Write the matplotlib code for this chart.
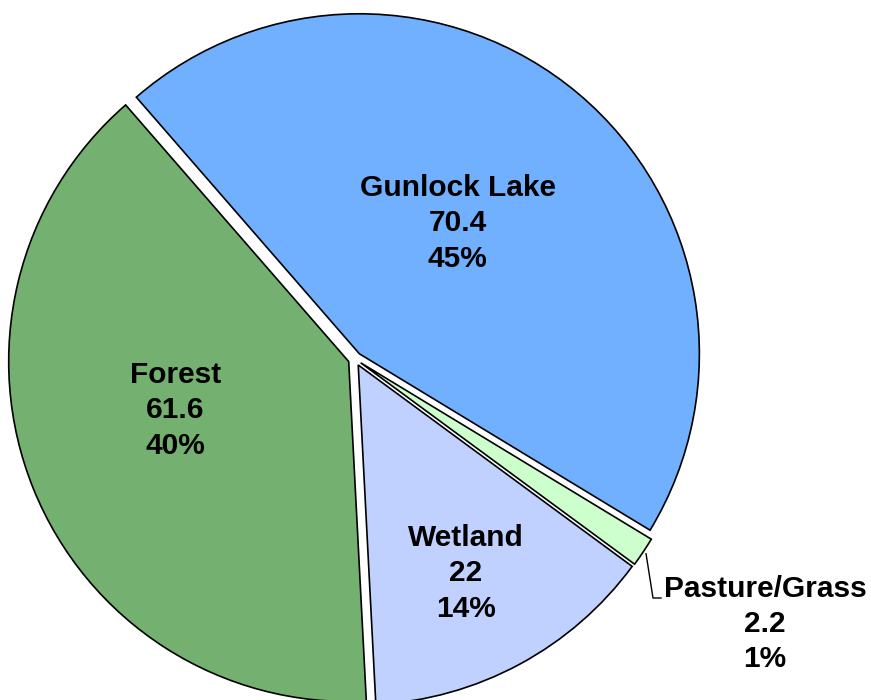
import numpy as np
import matplotlib.pyplot as plt

# Land use in the Gunlock Lake watershed
names = ['Gunlock Lake', 'Pasture/Grass', 'Wetland', 'Forest']
values = [70.4, 2.2, 22, 61.6]
percents = ['45%', '1%', '14%', '40%']
colors = ['#70B0FF', '#CCFFCC', '#C0D0FF', '#74B070']

plt.rcParams['font.family'] = ['Liberation Sans', 'DejaVu Sans']

fig = plt.figure(figsize=(8.71, 7), dpi=100)
ax = fig.add_axes([0, 0, 1, 1])

wedges, _ = ax.pie(values, colors=colors, startangle=131, counterclock=False,
                   explode=[0.02, 0.02, 0.02, 0.02], radius=1.0,
                   wedgeprops=dict(edgecolor='black', linewidth=1.2))

# pie centre sits at pixel (355, 359), radius 340 px
R = 340.0
ax.set_xlim(-355 / R, (871 - 355) / R)
ax.set_ylim(-(700 - 359) / R, 359 / R)
ax.set_aspect('equal')
ax.axis('off')

label_dist = {'Gunlock Lake': (0.50, 3), 'Wetland': (0.71, -1), 'Forest': (0.55, -6)}
for w, name, val, pct in zip(wedges, names, values, percents):
    mid = np.deg2rad((w.theta1 + w.theta2) / 2)
    txt = f'{name}\n{val:g}\n{pct}'
    if name in label_dist:
        d, shift = label_dist[name]
        a = mid + np.deg2rad(shift)
        ax.text(d * np.cos(a), d * np.sin(a), txt, ha='center', va='center',
                fontsize=21.5, fontweight='bold', linespacing=1.33)
    else:
        # small slice: label outside with a leader line
        ex, ey = 1.03 * np.cos(mid), 1.03 * np.sin(mid)
        tx, ty = (765 - 355) / R, (359 - 624) / R
        kx, ky = (653 - 355) / R, (359 - 598) / R
        ax.plot([ex, kx, kx + 8 / R], [ey, ky, ky], color='black', lw=1)
        ax.text(tx, ty, txt, ha='center', va='center',
                fontsize=21.5, fontweight='bold', linespacing=1.33)

fig.savefig('out.png', dpi=100)
